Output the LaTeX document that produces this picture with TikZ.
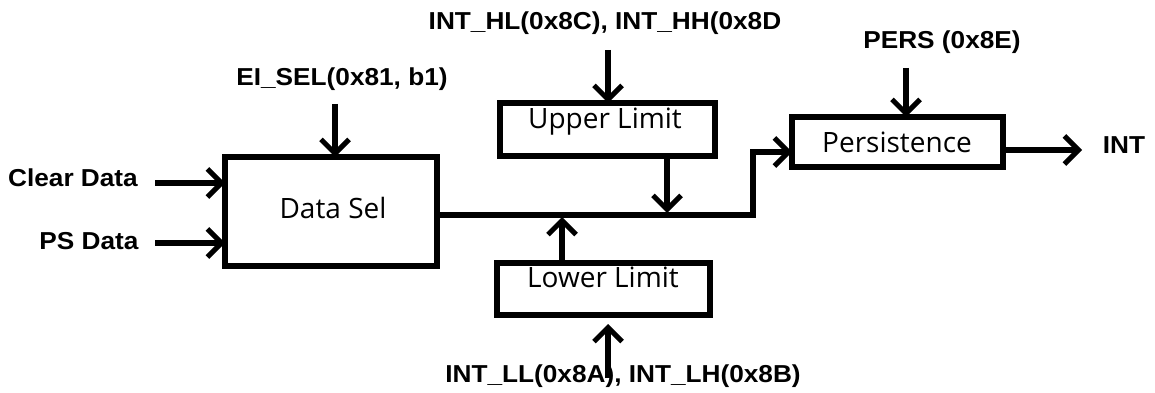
\documentclass[tikz,border=0pt]{standalone}
\usepackage{fontspec}
\setmainfont{Liberation Sans}
\newfontfamily\boxfont{Open Sans}
\usetikzlibrary{arrows.meta}
\newcommand{\lbltext}[1]{\scalebox{1.07}[1]{\bfseries #1}}
\begin{document}
\begin{tikzpicture}[x=1pt,y=-1pt,
  blk/.style={draw,line width=6pt,inner sep=0pt},
  boxtext/.style={font=\boxfont\fontsize{28}{30}\selectfont,inner sep=0pt},
  lbl/.style={font=\fontsize{24.5}{27}\selectfont,inner sep=0pt},
  conn/.style={line width=5.5pt,-{Straight Barb[length=14pt,width=28pt,line width=5pt]}},
  wire/.style={line width=5.5pt}]
\useasboundingbox (0,0) rectangle (1155,393);
% boxes
\draw[blk] (225,157) rectangle (437,266);
\node[boxtext] (dsel) at (333,208) {Data Sel};
\coordinate (dselE) at (437,215);
\draw[blk] (500,103) rectangle (715,156);
\node[boxtext] (upper) at (605,122) {Upper Limit};
\draw[blk] (497,263) rectangle (710,315);
\node[boxtext] (lower) at (603,277) {Lower Limit};
\draw[blk] (792,117) rectangle (1003,167);
\node[boxtext] (pers) at (897,142) {Persistence};
% labels
\node[lbl] (clear) at (73,178) {\lbltext{Clear Data}};
\node[lbl] (psd) at (89,241) {\lbltext{PS Data}};
\node[lbl] (eisel) at (342,79) {\lbltext{EI\_SEL(0x81, b1)}};
\node[lbl] (inth) at (605,23) {\lbltext{INT\_HL(0x8C), INT\_HH(0x8D}};
\node[lbl] (intl) at (623,376) {\lbltext{INT\_LL(0x8A), INT\_LH(0x8B)}};
\node[lbl] (persl) at (942,42) {\lbltext{PERS (0x8E)}};
\node[lbl] (intout) at (1124,145) {\lbltext{INT}};
% coordinates
\coordinate (c1a) at (155,183); \coordinate (c1b) at (225,183);
\coordinate (c2a) at (155,243); \coordinate (c2b) at (225,243);
\coordinate (e1a) at (335,104); \coordinate (e1b) at (335,157);
\coordinate (u1a) at (608,50);  \coordinate (u1b) at (608,103);
\coordinate (u2a) at (667,156); \coordinate (u2b) at (667,213);
\coordinate (l1a) at (562,263); \coordinate (l1b) at (562,217);
\coordinate (l2a) at (608,378); \coordinate (l2b) at (608,324);
\coordinate (p1a) at (906,68);  \coordinate (p1b) at (906,117);
\coordinate (corner1) at (753,215); \coordinate (corner2) at (753,152);
\coordinate (persW) at (792,152);
\coordinate (persE) at (1003,150); \coordinate (outEnd) at (1082,150);
% connectors
\draw[conn] (c1a) -- (c1b);
\draw[conn] (c2a) -- (c2b);
\draw[conn] (e1a) -- (e1b);
\draw[conn] (u1a) -- (u1b);
\draw[conn] (u2a) -- (u2b);
\draw[conn] (l1a) -- (l1b);
\draw[conn] (l2a) -- (l2b);
\draw[conn] (p1a) -- (p1b);
\draw[conn,line join=miter] (dselE) -- (corner1) -- (corner2) -- (persW);
\draw[conn] (persE) -- (outEnd);
\end{tikzpicture}
\end{document}
